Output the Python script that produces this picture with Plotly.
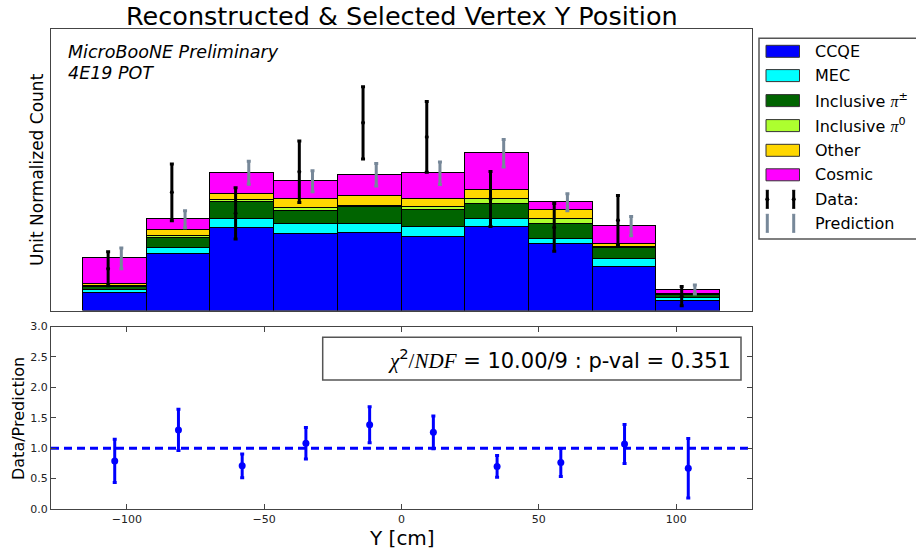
import plotly.graph_objects as go

# ---------------- data (unit-normalised) ----------------
bin_centers = [-104.4, -81.2, -58.0, -34.8, -11.6, 11.6, 34.8, 58.0, 81.2, 104.4]
bin_width = 23.2

ccqe   = [0.0167, 0.0532, 0.0779, 0.0722, 0.0734, 0.0693, 0.0794, 0.0630, 0.0414, 0.0091]
mec    = [0.0026, 0.0063, 0.0091, 0.0101, 0.0083, 0.0101, 0.0070, 0.0050, 0.0070, 0.0023]
pipm   = [0.0033, 0.0089, 0.0159, 0.0123, 0.0161, 0.0159, 0.0145, 0.0140, 0.0104, 0.0031]
pi0    = [0.0008, 0.0022, 0.0014, 0.0028, 0.0015, 0.0031, 0.0045, 0.0045, 0.0015, 0.0007]
other  = [0.0016, 0.0057, 0.0059, 0.0080, 0.0089, 0.0076, 0.0088, 0.0088, 0.0026, 0.0009]
cosmic = [0.0244, 0.0102, 0.0205, 0.0171, 0.0205, 0.0241, 0.0349, 0.0073, 0.0171, 0.0038]

pred_err = [0.0098, 0.0081, 0.0109, 0.0100, 0.0107, 0.0107, 0.0130, 0.0081, 0.0092, 0.0043]
data_val = [0.0395, 0.1121, 0.0921, 0.1316, 0.1779, 0.1646, 0.1057, 0.0788, 0.0855, 0.0136]
data_err = [0.0161, 0.0269, 0.0244, 0.0292, 0.0342, 0.0335, 0.0261, 0.0226, 0.0235, 0.0092]

ratio     = [0.79, 1.30, 0.71, 1.08, 1.385, 1.26, 0.70, 0.765, 1.07, 0.67]
ratio_err = [0.355, 0.34, 0.195, 0.26, 0.295, 0.27, 0.18, 0.23, 0.32, 0.49]

series = [
    ("CCQE", ccqe, "#0000ff"),
    ("MEC", mec, "#00ffff"),
    ("Inclusive π±", pipm, "#006400"),
    ("Inclusive π0", pi0, "#adff2f"),
    ("Other", other, "#ffd700"),
    ("Cosmic", cosmic, "#ff00ff"),
]
legend_labels = [
    "CCQE",
    "MEC",
    "Inclusive <span style='font-family:Liberation Serif;font-style:italic'>π</span><sup>±</sup>",
    "Inclusive <span style='font-family:Liberation Serif;font-style:italic'>π</span><sup>0</sup>",
    "Other",
    "Cosmic",
]

title_text = "Reconstructed & Selected Vertex Y Position"
chi2_text = ("<span style='font-family:Liberation Serif;font-style:italic'>χ</span><sup>2</sup>"
             "<span style='font-family:Liberation Serif'>/</span>"
             "<span style='font-family:Liberation Serif;font-style:italic'>NDF</span>"
             " = 10.00/9 : p-val = 0.351")
x_ticks = [-100, -50, 0, 50, 100]
y_ticks = [0.0, 0.5, 1.0, 1.5, 2.0, 2.5, 3.0]

# ---------------- geometry helpers ----------------
W, H = 916, 555
L, R, T, B = 51, 164, 29, 46
PW, PH = W - L - R, H - T - B


def px(x):
    return (x - L) / PW


def py(y):
    return (H - B - y) / PH


FONT = "DejaVu Sans"
DARK = "#222222"
FRAME = "#444444"
GRAY = "#778899"

fig = go.Figure()

# stacked histogram
for (name, vals, col) in series:
    fig.add_trace(go.Bar(
        x=bin_centers, y=vals, width=bin_width, name=name,
        marker=dict(color=col, line=dict(color="black", width=1)),
        xaxis="x", yaxis="y", showlegend=False,
    ))

totals = [sum(v) for v in zip(ccqe, mec, pipm, pi0, other, cosmic)]
off = 2.4
fig.add_trace(go.Scatter(
    x=[c + off for c in bin_centers], y=totals, mode="markers",
    marker=dict(size=2, color=GRAY, opacity=0),
    error_y=dict(type="data", array=pred_err, color=GRAY, thickness=3, width=2),
    xaxis="x", yaxis="y", showlegend=False,
))
fig.add_trace(go.Scatter(
    x=[c - off for c in bin_centers], y=data_val, mode="markers",
    marker=dict(size=4, color="black"),
    error_y=dict(type="data", array=data_err, color="black", thickness=3, width=2),
    xaxis="x", yaxis="y", showlegend=False,
))

# ratio panel
fig.add_trace(go.Scatter(
    x=bin_centers, y=ratio, mode="markers",
    marker=dict(size=7, color="#0000ff"),
    error_y=dict(type="data", array=ratio_err, color="#0000ff", thickness=3, width=2),
    xaxis="x2", yaxis="y2", showlegend=False,
))

xr = [-127.6, 127.6]
top_max = 0.2669

fig.update_layout(
    width=W, height=H,
    margin=dict(l=L, r=R, t=T, b=B),
    paper_bgcolor="white", plot_bgcolor="white",
    barmode="stack", bargap=0,
    font=dict(family=FONT, color=DARK),
    xaxis=dict(domain=[0, 1], range=xr, anchor="y", showticklabels=False, ticks="",
               showgrid=False, zeroline=False, showline=True, mirror=True,
               linecolor=FRAME, linewidth=1.3),
    yaxis=dict(domain=[py(310.5), 1], range=[0, top_max], showticklabels=False, ticks="",
               showgrid=False, zeroline=False, showline=True, mirror=True,
               linecolor=FRAME, linewidth=1.3),
    xaxis2=dict(domain=[0, 1], range=xr, anchor="y2", tickvals=x_ticks,
                ticks="inside", ticklen=5, tickcolor=FRAME, tickwidth=1,
                tickfont=dict(size=11, color=DARK, family=FONT),
                showgrid=False, zeroline=False, showline=True, mirror="ticks",
                linecolor=FRAME, linewidth=1.3),
    yaxis2=dict(domain=[0, py(326.5)], range=[0, 3.0], tickvals=y_ticks, tickformat=".1f",
                ticks="inside", ticklen=5, tickcolor=FRAME, tickwidth=1,
                tickfont=dict(size=11, color=DARK, family=FONT),
                showgrid=False, zeroline=False, showline=True, mirror="ticks",
                linecolor=FRAME, linewidth=1.3),
)

shapes = []
ann = []

# dashed unity line
shapes.append(dict(type="line", xref="x2 domain", yref="y2", x0=0, x1=1, y0=1.0, y1=1.0,
                   line=dict(color="#0000ff", width=3, dash="8px,5px"), layer="below"))

# chi2 box
shapes.append(dict(type="rect", xref="paper", yref="paper",
                   x0=px(322.7), x1=px(741), y0=py(380), y1=py(337.3),
                   line=dict(color="#555555", width=1.5), fillcolor="white", layer="below"))
ann.append(dict(text=chi2_text, xref="paper", yref="paper", x=px(733), y=py(358.5),
                xanchor="right", yanchor="middle", showarrow=False,
                font=dict(size=21, color="black", family=FONT)))

# title and texts
ann.append(dict(text=title_text, xref="paper", yref="paper", x=px(401.5), y=py(16.5),
                xanchor="center", yanchor="middle", showarrow=False,
                font=dict(size=25.5, color="black", family=FONT)))
ann.append(dict(text="<i>MicroBooNE Preliminary</i>", xref="paper", yref="paper",
                x=px(66), y=py(51.5), xanchor="left", yanchor="middle", showarrow=False,
                font=dict(size=17.5, color="black", family=FONT)))
ann.append(dict(text="<i>4E19 POT</i>", xref="paper", yref="paper",
                x=px(66), y=py(73), xanchor="left", yanchor="middle", showarrow=False,
                font=dict(size=17.5, color="black", family=FONT)))
ann.append(dict(text="Unit Normalized Count", xref="paper", yref="paper",
                x=px(37), y=py(170), xanchor="center", yanchor="middle", textangle=-90,
                showarrow=False, font=dict(size=17, color="black", family=FONT)))
ann.append(dict(text="Data/Prediction", xref="paper", yref="paper",
                x=px(18), y=py(419), xanchor="center", yanchor="middle", textangle=-90,
                showarrow=False, font=dict(size=16, color="black", family=FONT)))
ann.append(dict(text="Y [cm]", xref="paper", yref="paper",
                x=px(401.5), y=py(538), xanchor="center", yanchor="middle",
                showarrow=False, font=dict(size=20, color="black", family=FONT)))

# custom legend
shapes.append(dict(type="rect", xref="paper", yref="paper",
                   x0=px(759), x1=px(930), y0=py(239), y1=py(38.3),
                   line=dict(color="#555555", width=1.5), fillcolor="white"))
row_y = [51.3, 75.6, 100.6, 125.6, 150.3, 174.8, 199.3, 223.3]
for i, ((name, vals, col), lab) in enumerate(zip(series, legend_labels)):
    yc = row_y[i]
    shapes.append(dict(type="rect", xref="paper", yref="paper",
                       x0=px(766), x1=px(799.5), y0=py(yc + 6), y1=py(yc - 6),
                       line=dict(color="#333333", width=1), fillcolor=col))
    ann.append(dict(text=lab, xref="paper", yref="paper", x=px(813), y=py(yc),
                    xanchor="left", yanchor="middle", showarrow=False,
                    font=dict(size=16, color="black", family=FONT)))
for j, (lab, col, dot) in enumerate([("Data:", "black", True), ("Prediction", GRAY, False)]):
    yc = row_y[6 + j]
    for xx in (767.3, 793.7):
        shapes.append(dict(type="line", xref="paper", yref="paper",
                           x0=px(xx), x1=px(xx), y0=py(yc - 9), y1=py(yc + 9),
                           line=dict(color=col, width=3)))
        for yy in (yc - 9, yc + 9):
            shapes.append(dict(type="line", xref="paper", yref="paper",
                               x0=px(xx - 1.5), x1=px(xx + 1.5), y0=py(yy), y1=py(yy),
                               line=dict(color=col, width=1)))
        if dot:
            shapes.append(dict(type="circle", xref="paper", yref="paper",
                               x0=px(xx - 2), x1=px(xx + 2), y0=py(yc - 2), y1=py(yc + 2),
                               line=dict(color=col, width=0), fillcolor=col))
    ann.append(dict(text=lab, xref="paper", yref="paper", x=px(813), y=py(yc),
                    xanchor="left", yanchor="middle", showarrow=False,
                    font=dict(size=16, color="black", family=FONT)))

fig.update_layout(shapes=shapes, annotations=ann)
fig.write_html("out.html")
